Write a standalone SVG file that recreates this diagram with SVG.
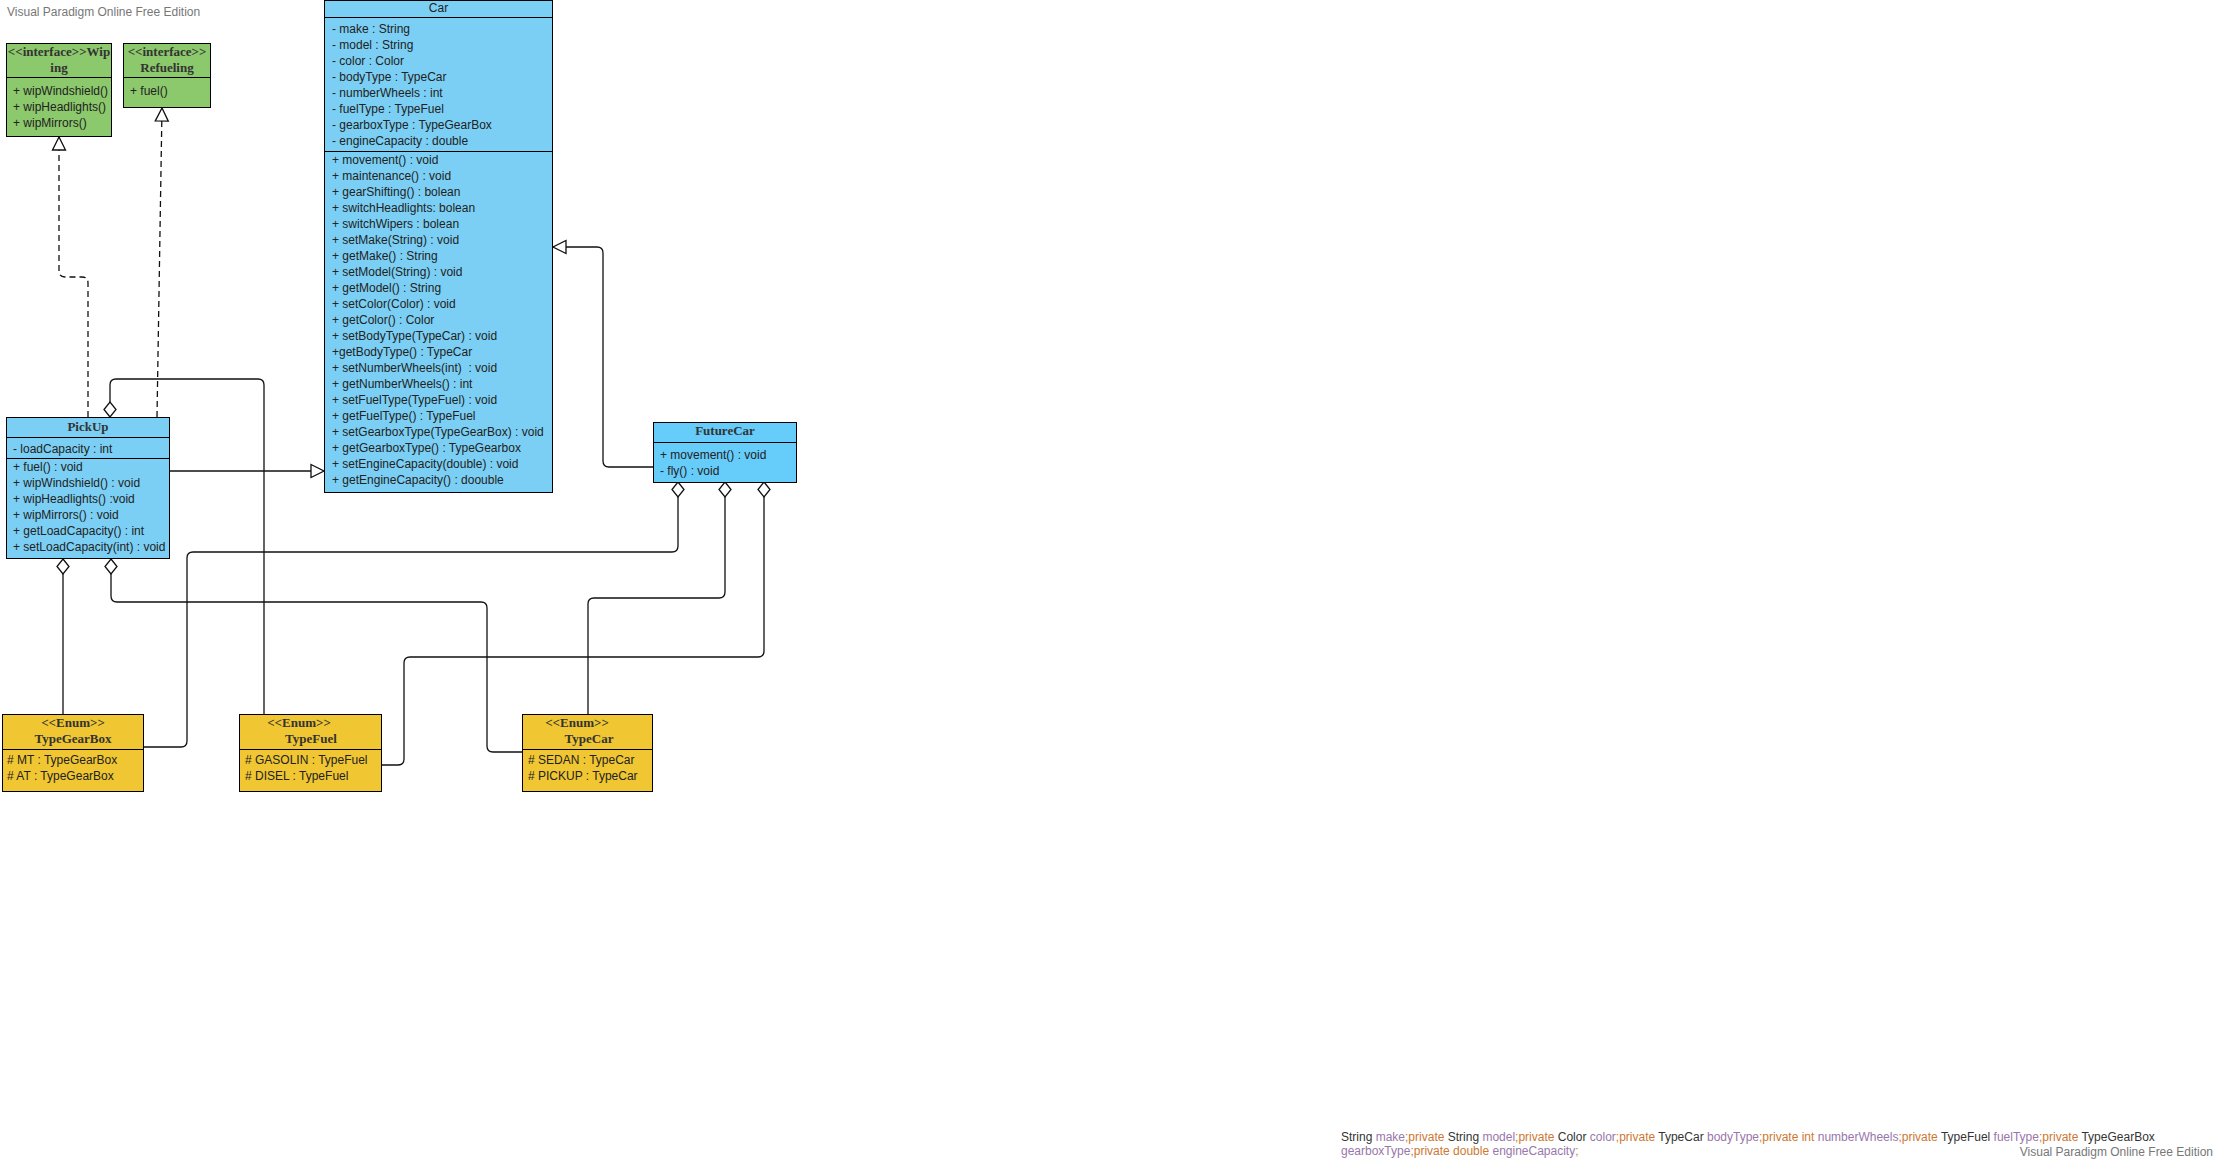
<svg xmlns="http://www.w3.org/2000/svg" width="2220" height="1163" viewBox="0 0 2220 1163">
<style>
.bg{fill:#ffffff}
.box{stroke:#000;stroke-width:1}
.blue{fill:#7BCFF4}
.fc{fill:#66CCFA}
.green{fill:#8CC86C}
.yellow{fill:#F0C632}
.div{stroke:#000;stroke-width:1}
.t{font-family:"Liberation Sans",Arial,sans-serif;font-size:12px;fill:#222;white-space:pre}
.h{font-family:"Liberation Serif","Times New Roman",serif;font-size:13px;font-weight:bold;fill:#333;text-anchor:middle;white-space:pre}
.hs{font-family:"Liberation Sans",Arial,sans-serif;font-size:12px;fill:#222;text-anchor:middle}
.wm{font-family:"Liberation Sans",Arial,sans-serif;font-size:12px;fill:#777}
.conn{fill:none;stroke:#111;stroke-width:1.3}
.dash{stroke-dasharray:6 4}
.kw{fill:#CC7832}
.id{fill:#9876AA}
.ty{fill:#333}
</style>
<defs>
<marker id="tri" markerUnits="userSpaceOnUse" markerWidth="16" markerHeight="16" refX="13" refY="6.5" orient="auto" overflow="visible">
<path d="M0,0 L13,6.5 L0,13 Z" fill="#fff" stroke="#111" stroke-width="1.3"/>
</marker>
<marker id="dia" markerUnits="userSpaceOnUse" markerWidth="18" markerHeight="14" refX="0" refY="6" orient="auto" overflow="visible">
<path d="M0,6 L7.5,0 L15,6 L7.5,12 Z" fill="#fff" stroke="#111" stroke-width="1.3"/>
</marker>
</defs>
<rect class="bg" x="0" y="0" width="2220" height="1163"/>
<text class="wm" x="7" y="16">Visual Paradigm Online Free Edition</text>

<g id="connectors">
<path class="conn dash" d="M88,417 V283 Q88,277 82,277 H65 Q59,277 59,271 V137" marker-end="url(#tri)"/>
<path class="conn dash" d="M157,417 L162,108" marker-end="url(#tri)"/>
<path class="conn" d="M169,471 H324" marker-end="url(#tri)"/>
<path class="conn" d="M653,467 H609 Q603,467 603,461 V253 Q603,247 597,247 H553" marker-end="url(#tri)"/>
<path class="conn" d="M110,417 V385 Q110,379 116,379 H258 Q264,379 264,385 V714" marker-start="url(#dia)"/>
<path class="conn" d="M63,559 V714" marker-start="url(#dia)"/>
<path class="conn" d="M111,559 V596 Q111,602 117,602 H481 Q487,602 487,608 V746 Q487,752 493,752 H522" marker-start="url(#dia)"/>
<path class="conn" d="M678,482 V546 Q678,552 672,552 H193 Q187,552 187,558 V741 Q187,747 181,747 H144" marker-start="url(#dia)"/>
<path class="conn" d="M725,482 V592 Q725,598 719,598 H594 Q588,598 588,604 V714" marker-start="url(#dia)"/>
<path class="conn" d="M764,482 V651 Q764,657 758,657 H410 Q404,657 404,663 V759 Q404,765 398,765 H382" marker-start="url(#dia)"/>
</g>

<g id="Wiping">
<rect class="box green" x="6.5" y="43.5" width="105" height="93"/>
<line class="div" x1="6.5" y1="77.5" x2="111.5" y2="77.5"/>
<text class="h" x="59" y="56">&lt;&lt;interface&gt;&gt;Wip</text>
<text class="h" x="59" y="72">ing</text>
<text class="t" x="13" y="94.5">+ wipWindshield()</text>
<text class="t" x="13" y="111">+ wipHeadlights()</text>
<text class="t" x="13" y="127">+ wipMirrors()</text>
</g>

<g id="Refueling">
<rect class="box green" x="123.5" y="43.5" width="87" height="64"/>
<line class="div" x1="123.5" y1="77.5" x2="210.5" y2="77.5"/>
<text class="h" x="167" y="56">&lt;&lt;interface&gt;&gt;</text>
<text class="h" x="167" y="72">Refueling</text>
<text class="t" x="130" y="94.5">+ fuel()</text>
</g>

<g id="Car">
<rect class="box blue" x="324.5" y="0.5" width="228" height="492"/>
<line class="div" x1="324.5" y1="17.5" x2="552.5" y2="17.5"/>
<line class="div" x1="324.5" y1="151.5" x2="552.5" y2="151.5"/>
<text class="hs" x="438.5" y="12">Car</text>
<text class="t" x="332" y="33">- make : String</text>
<text class="t" x="332" y="49">- model : String</text>
<text class="t" x="332" y="65">- color : Color</text>
<text class="t" x="332" y="81">- bodyType : TypeCar</text>
<text class="t" x="332" y="97">- numberWheels : int</text>
<text class="t" x="332" y="113">- fuelType : TypeFuel</text>
<text class="t" x="332" y="129">- gearboxType : TypeGearBox</text>
<text class="t" x="332" y="145">- engineCapacity : double</text>
<text class="t" x="332" y="163.5">+ movement() : void</text>
<text class="t" x="332" y="179.5">+ maintenance() : void</text>
<text class="t" x="332" y="195.5">+ gearShifting() : bolean</text>
<text class="t" x="332" y="211.5">+ switchHeadlights: bolean</text>
<text class="t" x="332" y="227.5">+ switchWipers : bolean</text>
<text class="t" x="332" y="243.5">+ setMake(String) : void</text>
<text class="t" x="332" y="259.5">+ getMake() : String</text>
<text class="t" x="332" y="275.5">+ setModel(String) : void</text>
<text class="t" x="332" y="291.5">+ getModel() : String</text>
<text class="t" x="332" y="307.5">+ setColor(Color) : void</text>
<text class="t" x="332" y="323.5">+ getColor() : Color</text>
<text class="t" x="332" y="339.5">+ setBodyType(TypeCar) : void</text>
<text class="t" x="332" y="355.5">+getBodyType() : TypeCar</text>
<text class="t" x="332" y="371.5">+ setNumberWheels(int)  : void</text>
<text class="t" x="332" y="387.5">+ getNumberWheels() : int</text>
<text class="t" x="332" y="403.5">+ setFuelType(TypeFuel) : void</text>
<text class="t" x="332" y="419.5">+ getFuelType() : TypeFuel</text>
<text class="t" x="332" y="435.5">+ setGearboxType(TypeGearBox) : void</text>
<text class="t" x="332" y="451.5">+ getGearboxType() : TypeGearbox</text>
<text class="t" x="332" y="467.5">+ setEngineCapacity(double) : void</text>
<text class="t" x="332" y="483.5">+ getEngineCapacity() : doouble</text>
</g>

<g id="PickUp">
<rect class="box blue" x="6.5" y="417.5" width="163" height="141"/>
<line class="div" x1="6.5" y1="437.5" x2="169.5" y2="437.5"/>
<line class="div" x1="6.5" y1="458.5" x2="169.5" y2="458.5"/>
<text class="h" x="88" y="431">PickUp</text>
<text class="t" x="13" y="453">- loadCapacity : int</text>
<text class="t" x="13" y="471">+ fuel() : void</text>
<text class="t" x="13" y="487">+ wipWindshield() : void</text>
<text class="t" x="13" y="503">+ wipHeadlights() :void</text>
<text class="t" x="13" y="519">+ wipMirrors() : void</text>
<text class="t" x="13" y="535">+ getLoadCapacity() : int</text>
<text class="t" x="13" y="551">+ setLoadCapacity(int) : void</text>
</g>

<g id="FutureCar">
<rect class="box fc" x="653.5" y="422.5" width="143" height="60"/>
<line class="div" x1="653.5" y1="442.5" x2="796.5" y2="442.5"/>
<text class="h" x="725" y="435">FutureCar</text>
<text class="t" x="660" y="459">+ movement() : void</text>
<text class="t" x="660" y="474.5">- fly() : void</text>
</g>

<g id="TypeGearBox">
<rect class="box yellow" x="2.5" y="714.5" width="141" height="77"/>
<line class="div" x1="2.5" y1="749.5" x2="143.5" y2="749.5"/>
<text class="h" x="73" y="726.5">&lt;&lt;Enum&gt;&gt;</text>
<text class="h" x="73" y="742.5">TypeGearBox</text>
<text class="t" x="7" y="764"># MT : TypeGearBox</text>
<text class="t" x="7" y="780"># AT : TypeGearBox</text>
</g>

<g id="TypeFuel">
<rect class="box yellow" x="239.5" y="714.5" width="142" height="77"/>
<line class="div" x1="239.5" y1="749.5" x2="381.5" y2="749.5"/>
<text class="h" x="299" y="726.5">&lt;&lt;Enum&gt;&gt;</text>
<text class="h" x="311" y="742.5">TypeFuel</text>
<text class="t" x="245" y="764"># GASOLIN : TypeFuel</text>
<text class="t" x="245" y="780"># DISEL : TypeFuel</text>
</g>

<g id="TypeCar">
<rect class="box yellow" x="522.5" y="714.5" width="130" height="77"/>
<line class="div" x1="522.5" y1="749.5" x2="652.5" y2="749.5"/>
<text class="h" x="577" y="726.5">&lt;&lt;Enum&gt;&gt;</text>
<text class="h" x="589" y="742.5">TypeCar</text>
<text class="t" x="528" y="764"># SEDAN : TypeCar</text>
<text class="t" x="528" y="780"># PICKUP : TypeCar</text>
</g>

<g id="code-note">
<text class="t" x="1341" y="1141"><tspan class="ty">String </tspan><tspan class="id">make</tspan><tspan class="kw">;private </tspan><tspan class="ty">String </tspan><tspan class="id">model</tspan><tspan class="kw">;private </tspan><tspan class="ty">Color </tspan><tspan class="id">color</tspan><tspan class="kw">;private </tspan><tspan class="ty">TypeCar </tspan><tspan class="id">bodyType</tspan><tspan class="kw">;private int </tspan><tspan class="id">numberWheels</tspan><tspan class="kw">;private </tspan><tspan class="ty">TypeFuel </tspan><tspan class="id">fuelType</tspan><tspan class="kw">;private </tspan><tspan class="ty">TypeGearBox</tspan></text>
<text class="t" x="1341" y="1155"><tspan class="id">gearboxType</tspan><tspan class="kw">;private double </tspan><tspan class="id">engineCapacity</tspan><tspan class="kw">;</tspan></text>
</g>
<text class="wm" x="2213" y="1156" text-anchor="end">Visual Paradigm Online Free Edition</text>
</svg>
